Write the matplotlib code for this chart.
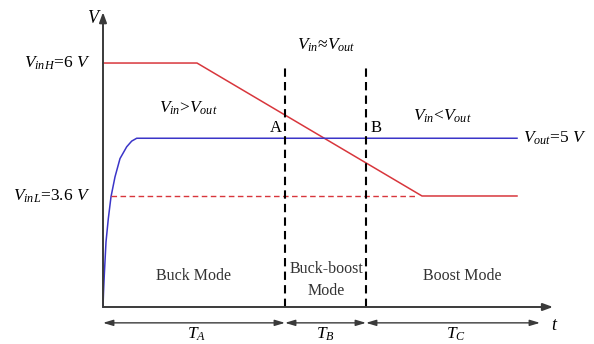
import matplotlib.pyplot as plt

plt.rcParams['font.family'] = ['Liberation Serif', 'DejaVu Serif']
plt.rcParams['mathtext.fontset'] = 'custom'
plt.rcParams['mathtext.rm'] = 'Liberation Serif'
plt.rcParams['mathtext.it'] = 'Liberation Serif:italic'

# schematic levels (arbitrary units as drawn)
v_in_high = 6.0
v_out = 4.15
v_in_low = 2.73

# input voltage profile
vin_t = [0, 9.4, 31.9, 41.4]
vin_v = [v_in_high, v_in_high, v_in_low, v_in_low]

# output voltage start-up
vout_t = [0, 0.05, 0.13, 0.3, 0.53, 0.8, 1.2, 1.7, 2.37, 2.87, 3.37, 41.4]
vout_v = [0, 0.35, 0.79, 1.6, 2.17, 2.71, 3.2, 3.65, 3.94, 4.08, 4.15, v_out]

# low-input reference (dashed)
vinl_t = [0.8, 31.4]

# mode boundaries
t_a = 18.2
t_b = 26.3
t_end = 43.7

red = '#d8363c'
blue = '#3b35c8'
axc = '#3a3a3a'

fig = plt.figure(figsize=(5.94, 3.44), dpi=100)
ax = fig.add_axes([0, 0, 1, 1])
ax.set_xlim(-10.3, 49.1)
ax.set_ylim(-0.91, 7.55)
ax.axis('off')

# axes with arrows
ax.annotate('', xy=(0, 7.25), xytext=(0, 0),
            arrowprops=dict(arrowstyle='-|>,head_length=0.6,head_width=0.22', color=axc, lw=1.4, shrinkA=0, shrinkB=0))
ax.annotate('', xy=(45.0, 0), xytext=(0, 0),
            arrowprops=dict(arrowstyle='-|>,head_length=0.6,head_width=0.22', color=axc, lw=1.4, shrinkA=0, shrinkB=0))
ax.text(-0.9, 7.1, '$V$', fontsize=13, ha='center', va='center')
ax.text(45.2, -0.45, '$t$', fontsize=13, ha='center', va='center')

# curves
ax.plot(vin_t, vin_v, color=red, lw=1.1)
ax.plot(vout_t, vout_v, color=blue, lw=1.1, solid_joinstyle='round')
ax.plot(vinl_t, [v_in_low, v_in_low], color=red, lw=1.0, ls=(0, (4, 2.5)))

# mode boundaries
for tb in (t_a, t_b):
    ax.plot([tb, tb], [0, 5.95], color='black', lw=1.5, ls=(0, (4, 2.5)))

# time interval arrows
y_arr = -0.39
for x0, x1 in ((0, t_a), (t_a, t_b), (t_b, t_end)):
    ax.annotate('', xy=(x1, y_arr), xytext=(x0, y_arr),
                arrowprops=dict(arrowstyle='<|-|>,head_length=0.6,head_width=0.18', color=axc, lw=1.0, shrinkA=0, shrinkB=0))
ax.text(t_a / 2 + 0.3, -0.66, '$T_A$', fontsize=12.5, ha='center', va='center')
ax.text((t_a + t_b) / 2, -0.66, '$T_B$', fontsize=12.5, ha='center', va='center')
ax.text((t_b + t_end) / 2 + 0.3, -0.66, '$T_C$', fontsize=12.5, ha='center', va='center')

# labels
ax.text(-1.3, v_in_high, '$V_{inH}$=6 $V$', fontsize=12.5, ha='right', va='center')
ax.text(-1.3, v_in_low, '$V_{inL}$=3.6 $V$', fontsize=12.5, ha='right', va='center')
ax.text(42.0, v_out, '$V_{out}$=5 $V$', fontsize=12.5, ha='left', va='center')
ax.text(8.5, 4.88, '$V_{in}$>$V_{out}$', fontsize=12.5, ha='center', va='center')
ax.text(22.3, 6.43, '$V_{in}$≈$V_{out}$', fontsize=12.5, ha='center', va='center')
ax.text(33.9, 4.68, '$V_{in}$<$V_{out}$', fontsize=12.5, ha='center', va='center')
ax.text(17.3, 4.4, 'A', fontsize=12, ha='center', va='center')
ax.text(27.3, 4.4, 'B', fontsize=12, ha='center', va='center')

ax.text(9.1, 0.76, 'Buck Mode', fontsize=11.5, ha='center', va='center', color='#333333')
ax.text(22.3, 0.66, 'Buck-boost\nMode', fontsize=11.5, ha='center', va='center', color='#333333', linespacing=1.45)
ax.text(35.9, 0.76, 'Boost Mode', fontsize=11.5, ha='center', va='center', color='#333333')

fig.savefig('out.png', dpi=100, facecolor='white')
